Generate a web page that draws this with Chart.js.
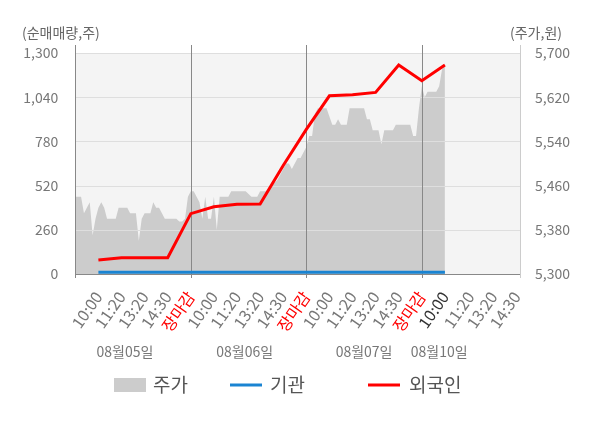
<!DOCTYPE html>
<html><head><meta charset="utf-8">
<script src="https://cdn.jsdelivr.net/npm/chart.js@4"></script>
<style>html,body{margin:0;padding:0;background:#fff;}#wrap{width:600px;height:428px;position:relative;}</style>
</head><body><div id="wrap"><canvas id="c" width="600" height="428"></canvas></div>
<script>
const FONT = '"Noto Sans CJK KR", "Noto Sans", sans-serif';

// x tick positions (label slots) and labels
const tickPos = [1,2,3,4,5,6,7,8,9,10,11,12,13,14,15,16,17.1,18.1,19.1];
const tickLabels = ['10:00','11:20','13:20','14:30','장마감',
                    '10:00','11:20','13:20','14:30','장마감',
                    '10:00','11:20','13:20','14:30','장마감',
                    '10:00','11:20','13:20','14:30'];
const dayEnds = [5,10,15];
const dateLabels = ['08월05일','08월06일','08월07일','08월10일'];
const dateLabelPos = [2.15,7.33,12.5,15.75];

const leftTicks = [0,260,520,780,1040,1300];
const rightTicks = [5300,5380,5460,5540,5620,5700];

// 주가 (stock price), sampled every priceStep slot units from the start
const priceStep = 0.125;
const price = [
 5440,5440,5440,5410,5420,5430,5370,5400,5420,5430,
 5420,5400,5400,5400,5400,5420,5420,5420,5420,5410,
 5410,5410,5360,5400,5410,5410,5410,5430,5420,5420,
 5410,5400,5400,5400,5400,5400,5395,5395,5400,5440,
 5450,5450,5440,5430,5400,5440,5400,5400,5440,5380,
 5440,5440,5440,5440,5450,5450,5450,5450,5450,5450,
 5445,5440,5440,5440,5450,5450,5450,5455,5460,5465,
 5470,5480,5490,5500,5500,5490,5500,5510,5510,5520,
 5530,5550,5550,5590,5600,5600,5600,5600,5585,5570,
 5570,5580,5570,5570,5570,5600,5600,5600,5600,5600,
 5600,5580,5580,5560,5560,5560,5535,5560,5560,5560,
 5560,5570,5570,5570,5570,5570,5570,5550,5550,5600,
 5640,5620,5630,5630,5630,5630,5640,5670,5680
];

// 기관 / 외국인 net buying at each label slot
const flowPos = [1,2,3,4,5,6,7,8,9,10,11,12,13,14,15,16];
const institution = [10,10,10,10,10,10,10,10,10,10,10,10,10,10,10,10];
const foreign = [83,96,96,96,355,395,410,412,638,851,1048,1054,1068,1229,1137,1229];

const priceData = price.map((v,i)=>({x:i*priceStep, y:v}));
const instData = institution.map((v,i)=>({x:flowPos[i], y:v}));
const forData = foreign.map((v,i)=>({x:flowPos[i], y:v}));

const AREA_COLOR = '#cccccc', BLUE = '#1a84d2', RED = '#ff0000';

const decor = {
  id:'decor',
  beforeDraw(chart){
    const {ctx, chartArea:a} = chart;
    ctx.save();
    ctx.fillStyle = '#f4f4f4';
    ctx.fillRect(a.left, a.top, a.right-a.left, a.bottom-a.top);
    ctx.restore();
  },
  afterDatasetDraw(chart, args){
    if (args.index !== 0) return;
    const {ctx, chartArea:a, scales} = chart;
    ctx.save();
    ctx.lineWidth = 1;
    ctx.strokeStyle = '#dedede';
    leftTicks.forEach(v=>{
      if (v === 0) return;
      const y = Math.round(scales.y.getPixelForValue(v))+0.5;
      ctx.beginPath(); ctx.moveTo(a.left, y); ctx.lineTo(a.right, y); ctx.stroke();
    });
    ctx.strokeStyle = '#888888';
    dayEnds.forEach(d=>{
      const x = Math.round(scales.x.getPixelForValue(d))+0.5;
      ctx.beginPath(); ctx.moveTo(x, a.top-8); ctx.lineTo(x, a.bottom+4); ctx.stroke();
    });
    const lx = Math.round(a.left)+0.5;
    ctx.beginPath(); ctx.moveTo(lx, a.top-8); ctx.lineTo(lx, a.bottom+4); ctx.stroke();
    const by = Math.round(a.bottom)+0.5;
    ctx.beginPath(); ctx.moveTo(a.left, by); ctx.lineTo(a.right, by); ctx.stroke();
    ctx.strokeStyle = '#cccccc';
    const rx = Math.round(a.right)+0.5;
    ctx.beginPath(); ctx.moveTo(rx, a.top-8); ctx.lineTo(rx, a.bottom+4); ctx.stroke();
    ctx.restore();
  },
  afterDraw(chart){
    const {ctx, chartArea:a, scales} = chart;
    ctx.save();
    ctx.font = '14px ' + FONT;
    ctx.fillStyle = '#666666';
    ctx.textBaseline = 'middle';
    ctx.textAlign = 'left';
    ctx.fillText('(순매매량,주)', 22, 33);
    ctx.textAlign = 'right';
    ctx.fillText('(주가,원)', 562, 33);
    ctx.fillStyle = '#777777';
    ctx.textAlign = 'center';
    dateLabels.forEach((t,i)=>{
      ctx.fillText(t, scales.x.getPixelForValue(dateLabelPos[i]), 352);
    });
    // legend
    const ly = 385;
    ctx.font = '19px ' + FONT;
    ctx.textAlign = 'left';
    ctx.fillStyle = AREA_COLOR;
    ctx.fillRect(114, ly-7, 32, 14);
    ctx.fillStyle = '#555555';
    ctx.fillText(chart.data.datasets[0].label, 153, ly);
    ctx.lineWidth = 3;
    ctx.strokeStyle = BLUE;
    ctx.beginPath(); ctx.moveTo(230, ly); ctx.lineTo(262, ly); ctx.stroke();
    ctx.fillText(chart.data.datasets[1].label, 270, ly);
    ctx.strokeStyle = RED;
    ctx.beginPath(); ctx.moveTo(368, ly); ctx.lineTo(400, ly); ctx.stroke();
    ctx.fillText(chart.data.datasets[2].label, 409, ly);
    ctx.restore();
  }
};

new Chart(document.getElementById('c'), {
  data: {
    datasets: [
      {type:'line', label:'주가', data:priceData, yAxisID:'y1', order:3,
       fill:'start', backgroundColor:AREA_COLOR, borderWidth:0, pointRadius:0, tension:0},
      {type:'line', label:'기관', data:instData, yAxisID:'y', order:2,
       borderColor:BLUE, borderWidth:3, pointRadius:0, fill:false, tension:0},
      {type:'line', label:'외국인', data:forData, yAxisID:'y', order:1,
       borderColor:RED, borderWidth:3, pointRadius:0, fill:false, tension:0}
    ]
  },
  options: {
    responsive:false, animation:false, devicePixelRatio:1,
    layout:{padding:{top:53, left:0, right:0, bottom:0}},
    plugins:{legend:{display:false}, tooltip:{enabled:false}},
    scales:{
      x:{type:'linear', min:0, max:19.25,
         grid:{display:false}, border:{display:false},
         afterBuildTicks(s){ s.ticks = tickPos.map(v=>({value:v})); },
         afterFit(s){ s.height = 154; },
         ticks:{autoSkip:false, minRotation:55, maxRotation:55, padding:6,
           font:{family:FONT, size:16},
           color(ctx){ const l = tickLabels[ctx.index];
             if (l === '장마감') return '#ff0000';
             if (ctx.index === 15) return '#333333';
             return '#777777'; },
           callback(v, i){ return tickLabels[i]; }}
      },
      y:{type:'linear', position:'left', min:0, max:1300,
         grid:{display:false}, border:{display:false},
         afterBuildTicks(s){ s.ticks = leftTicks.map(v=>({value:v})); },
         afterFit(s){ s.width = 75.3; },
         ticks:{padding:9, color:'#777777', font:{family:FONT, size:14},
           callback(v){ return v.toLocaleString('en-US'); }}
      },
      y1:{type:'linear', position:'right', min:5300, max:5700,
         grid:{display:false}, border:{display:false},
         afterBuildTicks(s){ s.ticks = rightTicks.map(v=>({value:v})); },
         afterFit(s){ s.width = 80; },
         ticks:{padding:7, color:'#777777', font:{family:FONT, size:14},
           callback(v){ return v.toLocaleString('en-US'); }}
      }
    }
  },
  plugins:[decor]
});
</script></body></html>
